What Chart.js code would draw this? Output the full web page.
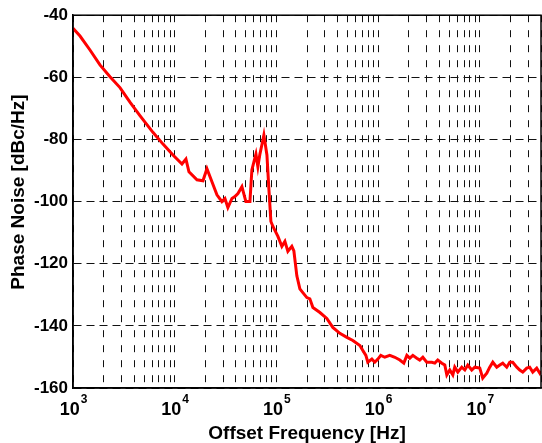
<!DOCTYPE html>
<html>
<head>
<meta charset="utf-8">
<script src="https://cdn.jsdelivr.net/npm/chart.js@4.4.0/dist/chart.umd.min.js"></script>
<style>
  html, body { margin: 0; padding: 0; background: #fff; }
  #wrap { width: 542px; height: 443px; }
</style>
</head>
<body>
<div id="wrap"><canvas id="myChart"></canvas></div>
<script>
// offset frequency [Hz]
const freqHz = [
  1000, 1172, 1469, 1841, 2311, 2897, 3631, 4551, 6108, 7674, 9616,
  11790, 12900, 13810, 16560, 18970, 20760, 23240, 26020, 29120,
  31190, 33340, 36560, 39080, 41880, 45810, 50120, 54950, 57410, 60120,
  62950, 65770, 68870, 71940, 75340, 80720, 84330, 88310, 92470,
  103500, 113200, 121300, 129700, 141900, 148600, 158900, 170200, 182000,
  199500, 213300, 228600, 267900, 313300, 358900, 420700, 493200, 564900,
  662200, 707900, 758600, 792500, 868900, 929000, 995400,
  1064000, 1164000, 1303000, 1462000, 1637000, 1791000, 1919000, 2051000,
  2198000, 2404000, 2570000, 2754000, 3013000, 3375000, 3614000, 3864000,
  4236000, 4529000, 4742000, 5070000, 5433000, 5675000, 6081000, 6653000,
  7129000, 7621000, 8337000, 8933000,
  10000000, 10690000, 11720000, 12530000, 13430000, 14690000, 15740000,
  16830000, 18410000, 19720000, 21090000, 23120000, 24720000, 26490000,
  28970000, 30970000, 33190000, 36310000, 38900000, 39800000
];
// phase noise [dBc/Hz]
const phaseNoise = [
  -44.2, -46.7, -51.2, -56.0, -59.8, -63.3, -68.0, -72.3, -77.7, -81.5, -85.0,
  -87.9, -86.3, -90.4, -93.0, -93.3, -89.4, -93.6, -97.8, -100.0,
  -99.0, -101.9, -99.0, -98.4, -97.4, -95.2, -100.0, -100.0, -89.8, -87.2,
  -84.7, -88.8, -84.7, -81.8, -78.6, -85.0, -95.8, -106.4, -108.0,
  -111.2, -114.4, -112.8, -116.0, -114.4, -115.9, -123.9, -128.1, -129.3,
  -130.9, -131.3, -134.1, -135.7, -137.6, -140.5, -142.4, -143.7, -144.7,
  -146.3, -147.9, -149.5, -151.7, -150.7, -151.7, -150.7,
  -149.5, -150.1, -149.5, -150.1, -151.0, -152.0, -149.5, -150.4,
  -149.5, -150.4, -151.0, -150.1, -151.7, -151.7, -152.0, -151.0,
  -152.0, -152.6, -155.8, -154.2, -155.8, -153.3, -154.9, -153.3,
  -154.2, -152.6, -154.2, -153.3,
  -153.6, -156.8, -155.2, -153.3, -151.7, -153.3, -152.6,
  -152.0, -153.3, -151.7, -151.7, -153.3, -154.2, -154.9,
  -153.6, -153.3, -154.9, -153.6, -155.2, -154.5
];
const xDecades = [3, 4, 5, 6, 7];
const xMin = 1000;
const xMax = 40000000;
const yMin = -160;
const yMax = -40;
const yStep = 20;
const xTitle = 'Offset Frequency [Hz]';
const yTitle = 'Phase Noise [dBc/Hz]';

const FONT = "'Liberation Sans', Arial, sans-serif";

// grid at 1..9 x 10^n like the original log axis
const gridTicks = [];
for (let e = 3; e <= 7; e++) {
  for (let m = 1; m <= 9; m++) {
    const v = m * Math.pow(10, e);
    if (v <= xMax) gridTicks.push({ value: v });
  }
}

const decorPlugin = {
  id: 'decor',
  afterDraw(chart) {
    const ctx = chart.ctx;
    const a = chart.chartArea;
    const xs = chart.scales.x;
    ctx.save();
    // box
    ctx.strokeStyle = '#000';
    ctx.lineWidth = 1.5;
    ctx.strokeRect(a.left, a.top, a.right - a.left, a.bottom - a.top);
    // decade labels 10^n
    ctx.fillStyle = '#000';
    ctx.textBaseline = 'alphabetic';
    ctx.textAlign = 'left';
    xDecades.forEach((e) => {
      const px = xs.getPixelForValue(Math.pow(10, e));
      ctx.font = 'bold 18px ' + FONT;
      const wBase = ctx.measureText('10').width;
      ctx.font = 'bold 12px ' + FONT;
      const wSup = ctx.measureText(String(e)).width;
      const x0 = px - (wBase + wSup) / 2;
      ctx.font = 'bold 18px ' + FONT;
      ctx.fillText('10', x0, a.bottom + 27);
      ctx.font = 'bold 12px ' + FONT;
      ctx.fillText(String(e), x0 + wBase + 1, a.bottom + 15);
    });
    // axis titles
    ctx.font = 'bold 19px ' + FONT;
    ctx.textAlign = 'center';
    ctx.fillText(xTitle, (a.left + a.right) / 2, 439);
    ctx.translate(24, 192);
    ctx.rotate(-Math.PI / 2);
    ctx.fillText(yTitle, 0, 0);
    ctx.restore();
  }
};

new Chart(document.getElementById('myChart'), {
  type: 'line',
  data: {
    datasets: [{
      data: freqHz.map((f, i) => ({ x: f, y: phaseNoise[i] })),
      borderColor: '#ff0000',
      borderWidth: 3,
      pointRadius: 0,
      fill: false,
      tension: 0
    }]
  },
  options: {
    responsive: true,
    maintainAspectRatio: false,
    animation: false,
    layout: { padding: { top: 12, right: 1, left: 0, bottom: 0 } },
    plugins: {
      legend: { display: false },
      tooltip: { enabled: false }
    },
    scales: {
      x: {
        type: 'logarithmic',
        min: xMin,
        max: xMax,
        afterBuildTicks: (s) => { s.ticks = gridTicks.slice(); },
        afterFit: (s) => { s.height = 55; },
        ticks: { display: false },
        grid: { color: '#111', lineWidth: 1, drawTicks: false },
        border: { display: true, color: '#000', width: 1.5, dash: [7, 8] }
      },
      y: {
        min: yMin,
        max: yMax,
        afterFit: (s) => { s.width = 73; },
        ticks: {
          stepSize: yStep,
          color: '#000',
          padding: 5,
          font: { family: FONT, size: 17, weight: 'bold' }
        },
        grid: { color: '#111', lineWidth: 1, drawTicks: false },
        border: { display: true, color: '#000', width: 1.5, dash: [8, 5] }
      }
    }
  },
  plugins: [decorPlugin]
});
</script>
</body>
</html>
